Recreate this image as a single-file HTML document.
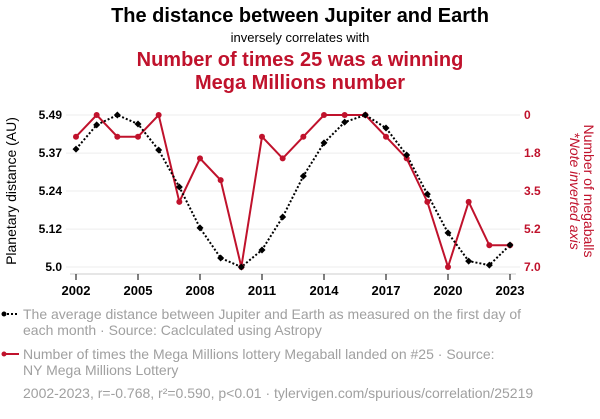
<!DOCTYPE html>
<html><head><meta charset="utf-8"><style>
body{margin:0;background:#fff;font-family:"Liberation Sans",sans-serif;}
svg text{font-family:"Liberation Sans",sans-serif;}
</style></head><body>
<svg id="c" width="600" height="414" viewBox="0 0 600 414" xmlns="http://www.w3.org/2000/svg">
<text x="300" y="22" text-anchor="middle" font-size="20" font-weight="bold" fill="#000">The distance between Jupiter and Earth</text>
<text x="300" y="42" text-anchor="middle" font-size="13" fill="#000">inversely correlates with</text>
<text x="300" y="66" text-anchor="middle" font-size="20" font-weight="bold" fill="#c0122c">Number of times 25 was a winning</text>
<text x="300" y="89" text-anchor="middle" font-size="20" font-weight="bold" fill="#c0122c">Mega Millions number</text>
<g id="grid"></g><g id="axes"></g><g id="marks"></g>
<text transform="translate(16,191) rotate(-90)" text-anchor="middle" font-size="14" fill="#000">Planetary distance (AU)</text>
<text transform="translate(584,191) rotate(90)" text-anchor="middle" font-size="14" fill="#c0122c">Number of megaballs</text>
<text transform="translate(570,191) rotate(90)" text-anchor="middle" font-size="14" font-style="italic" fill="#c0122c">*Note inverted axis</text>
<g>
<line x1="3" y1="314" x2="19" y2="314" stroke="#000" stroke-width="2" stroke-dasharray="2,2"/><circle cx="4" cy="314" r="2.5" fill="#000"/>
<text x="23" y="319" font-size="14" fill="#a0a0a0">The average distance between Jupiter and Earth as measured on the first day of</text>
<text x="23" y="335" font-size="14" fill="#a0a0a0">each month · Source: Caclculated using Astropy</text></g>
<g>
<line x1="3" y1="354" x2="19" y2="354" stroke="#c0122c" stroke-width="2"/><circle cx="4" cy="354" r="2.5" fill="#c0122c"/>
<text x="23" y="359" font-size="14" fill="#a0a0a0">Number of times the Mega Millions lottery Megaball landed on #25 · Source:</text>
<text x="23" y="375" font-size="14" fill="#a0a0a0">NY Mega Millions Lottery</text></g>
<text x="23" y="398" font-size="14" fill="#a0a0a0">2002-2023, r=-0.768, r²=0.590, p&lt;0.01 · tylervigen.com/spurious/correlation/25219</text>
</svg>
<script>
const years=[2002,2003,2004,2005,2006,2007,2008,2009,2010,2011,2012,2013,2014,2015,2016,2017,2018,2019,2020,2021,2022,2023];
const distance=[5.380,5.458,5.49,5.461,5.377,5.258,5.126,5.029,5.0,5.055,5.161,5.293,5.40,5.467,5.49,5.448,5.361,5.235,5.110,5.019,5.006,5.071];
const megaballs=[1,0,1,1,0,4,2,3,7,1,2,1,0,0,0,1,2,4,7,4,6,6];
const leftTicks=["5.49","5.37","5.24","5.12","5.0"];
const leftTickVals=[5.49,5.367,5.245,5.122,5.0];
const rightTicks=["0","1.8","3.5","5.2","7.0"];
const xTicks=[2002,2005,2008,2011,2014,2017,2020,2023];
const NS="http://www.w3.org/2000/svg";
const X=y=>76+(y-2002)*(510-76)/21;
const YL=v=>267-(v-5.0)/(5.49-5.0)*152;
const YR=v=>115+v/7*152;
function mk(t,a,p){const e=document.createElementNS(NS,t);for(const k in a)e.setAttribute(k,a[k]);p.appendChild(e);return e;}
const grid=document.getElementById('grid'),axes=document.getElementById('axes'),marks=document.getElementById('marks');
leftTickVals.forEach((v,i)=>{const y=YL(v);
 const g=mk('line',{x1:66,x2:520,y1:y,y2:y,stroke:'#eee','stroke-width':1},grid);
 
 
 const t=mk('text',{x:62,y:y+4,'text-anchor':'end','font-size':12,'font-weight':'bold',fill:'#000'},axes);t.textContent=leftTicks[i];
 
 
 const r=mk('text',{x:524,y:y+4,'font-size':12,'font-weight':'bold',fill:'#c0122c'},axes);r.textContent=rightTicks[i];
 
 
});
const xl=mk('line',{x1:70,x2:516,y1:274,y2:274,stroke:'#ccc'},axes);


xTicks.forEach(yr=>{const x=X(yr);
 mk('line',{x1:x,x2:x,y1:274,y2:280,stroke:'#000'},axes);
 const t=mk('text',{x:x,y:295,'text-anchor':'middle','font-size':13,'font-weight':'bold',fill:'#000'},axes);t.textContent=yr;
 
 
});
const rp=years.map((y,i)=>X(y)+','+YR(megaballs[i])).join(' ');
const rl=mk('polyline',{points:rp,fill:'none',stroke:'#c0122c','stroke-width':2},marks);


const bp=years.map((y,i)=>X(y)+','+YL(distance[i])).join(' ');
const bl=mk('polyline',{points:bp,fill:'none',stroke:'#000','stroke-width':2,'stroke-dasharray':'2,2'},marks);


years.forEach((y,i)=>{
 const c=mk('circle',{cx:X(y),cy:YR(megaballs[i]),r:3,fill:'#c0122c'},marks);
 
 
 const x=X(y),yy=YL(distance[i]);
 const d=mk('polygon',{points:`${x},${yy-3.5} ${x+3.5},${yy} ${x},${yy+3.5} ${x-3.5},${yy}`,fill:'#000'},marks);
 
 
});
</script>
</body></html>
